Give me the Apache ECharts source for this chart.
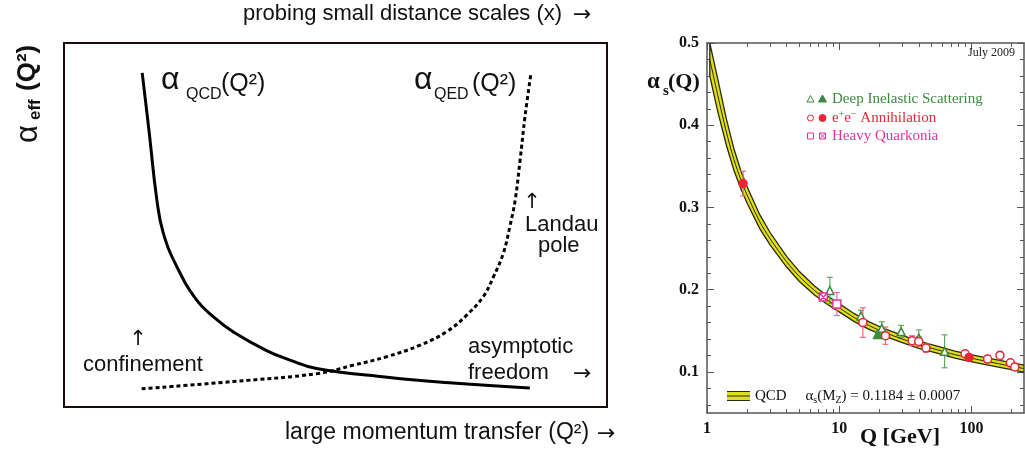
<!DOCTYPE html>
<html>
<head>
<meta charset="utf-8">
<script src="https://cdn.jsdelivr.net/npm/echarts@6/dist/echarts.min.js"></script>
<style>
  html, body { margin: 0; padding: 0; background: #fff; }
  #chart { width: 1025px; height: 452px; }
</style>
</head>
<body>
<div id="chart"></div>
<script>
// ---- Left panel: schematic effective couplings (arbitrary units, 0..100 on both axes)
const qcdSketchX = [14.4, 15.7, 17.1, 18.3, 20.8, 24.4, 27.5, 31.2, 37.3, 41.6, 46.5, 59.5, 71.6, 85.8];
const qcdSketchY = [91.8, 75.3, 56.9, 47.7, 38.5, 29.4, 24.8, 20.6, 15.5, 12.9, 10.6, 8.2, 6.6, 5.2];
const qedSketchX = [14.3, 31.2, 46.8, 53.3, 59.4, 65.6, 70.5, 74.2, 77.2, 79.1, 80.9, 82.1, 83.1, 84.0, 84.9, 86.0];
const qedSketchY = [5.0, 7.0, 9.2, 11.5, 13.8, 17.0, 20.7, 25.3, 30.3, 35.8, 42.2, 49.5, 56.9, 67.9, 79.8, 91.7];

// ---- Right panel: alpha_s(Q) world summary
const qcdQ      = [1.05, 1.2, 1.4, 1.6, 1.8, 2.0, 2.5, 3.0, 4.0, 5.0, 6.5, 8.0, 10, 13, 17, 22, 30, 40, 55, 75, 91.2, 120, 160, 200, 250];
const qcdAlpha  = [0.480, 0.438, 0.392, 0.358, 0.334, 0.316, 0.283, 0.262, 0.234, 0.216, 0.199, 0.188, 0.178, 0.166, 0.156, 0.148, 0.140, 0.133, 0.127, 0.121, 0.118, 0.114, 0.110, 0.107, 0.104];
const qcdSpread = [0.020, 0.020, 0.016, 0.013, 0.011, 0.010, 0.0085, 0.0075, 0.0065, 0.006, 0.0055, 0.0052, 0.005, 0.0048, 0.0046, 0.0045, 0.0044, 0.0043, 0.0043, 0.0042, 0.0042, 0.0042, 0.0042, 0.0042, 0.0042];

// [Q (GeV), alpha_s, error]
const disOpen      = [[8.5, 0.199, 0.016], [14.6, 0.168, 0.007], [21.0, 0.153, 0.008], [29.4, 0.149, 0.0075], [40.0, 0.141, 0.010], [62.7, 0.125, 0.020]];
const disFilled    = [[19.5, 0.1456, 0.004]];
const eeOpen       = [[15.1, 0.160, 0.018], [22.4, 0.144, 0.0105], [35.6, 0.138, 0.006], [40.0, 0.137, 0.006], [45.3, 0.129, 0.005], [89.7, 0.122, 0.003], [132.6, 0.1156, 0.0045], [164.4, 0.120, 0.005], [197.3, 0.111, 0.004], [213, 0.106, 0.003]];
const eeFilled     = [[1.875, 0.329, 0.015], [96.0, 0.1176, 0.002]];
const quarkOpen    = [[9.6, 0.1825, 0.014]];
const quarkCrossed = [[7.58, 0.191, 0.003]];

const xMajorTicks = [1, 10, 100];
const xMinorTicks = [2, 3, 4, 5, 6, 7, 8, 9, 20, 30, 40, 50, 60, 70, 80, 90, 200];
const yMajorTicks = [0.1, 0.2, 0.3, 0.4, 0.5];
const yMinorTicks = [0.06, 0.08, 0.12, 0.14, 0.16, 0.18, 0.22, 0.24, 0.26, 0.28, 0.32, 0.34, 0.36, 0.38, 0.42, 0.44, 0.46, 0.48];

const GREEN = '#3b8a3e', GREEN_BAR = '#5fa862';
const RED = '#ec2438', RED_BAR = '#f26a78';
const MAGENTA = '#e2359c', MAGENTA_BAR = '#ee6bb8';
const BAND = '#dede1c', BAND_EDGE = '#2a2a10';
const SANS = 'Liberation Sans', SERIF = 'Liberation Serif', SYM = 'DejaVu Sans';
const AXIS_GREY = '#555';

const zip = (a, b) => a.map((v, i) => [v, b[i]]);

function errorBarSeries(data, color) {
  return {
    type: 'custom', xAxisIndex: 1, yAxisIndex: 1, clip: true, z: 3,
    data: data,
    encode: { x: 0, y: 1 },
    renderItem: function (params, api) {
      const q = api.value(0), a = api.value(1), e = api.value(2);
      const top = api.coord([q, a + e]);
      const bot = api.coord([q, a - e]);
      const w = 3;
      return {
        type: 'group',
        children: [
          { type: 'line', shape: { x1: top[0], y1: top[1], x2: bot[0], y2: bot[1] }, style: { stroke: color, lineWidth: 1.2 } },
          { type: 'line', shape: { x1: top[0] - w, y1: top[1], x2: top[0] + w, y2: top[1] }, style: { stroke: color, lineWidth: 1.2 } },
          { type: 'line', shape: { x1: bot[0] - w, y1: bot[1], x2: bot[0] + w, y2: bot[1] }, style: { stroke: color, lineWidth: 1.2 } }
        ]
      };
    }
  };
}

function markerSeries(data, symbol, fill, stroke, size) {
  return {
    type: 'scatter', xAxisIndex: 1, yAxisIndex: 1, z: 4,
    data: data.map(d => [d[0], d[1]]),
    symbol: symbol, symbolSize: size || 7,
    itemStyle: { color: fill, borderColor: stroke, borderWidth: 1.5, opacity: 1 },
    emphasis: { disabled: true }
  };
}

const crossedSquare = 'path://M0,0H10V10H0Z M0,0L10,10 M10,0L0,10';

function txt(x, y, text, size, opts) {
  opts = opts || {};
  return {
    type: 'text', x: x, y: y, z: 10,
    style: Object.assign({
      text: text, fontSize: size, fontFamily: opts.family || SANS,
      fontWeight: opts.weight || 'normal', fill: opts.color || '#111',
      align: opts.align || 'left', verticalAlign: 'middle'
    }, opts.style || {})
  };
}

const chart = echarts.init(document.getElementById('chart'), null, { renderer: 'canvas' });

const option = {
  animation: false,
  backgroundColor: '#fff',
  grid: [
    { left: 64, top: 43, width: 543, height: 364, show: true, borderColor: '#1a0a0a', borderWidth: 2, backgroundColor: 'transparent' },
    { left: 707, top: 43, right: 1, bottom: 39 }
  ],
  xAxis: [
    { type: 'value', gridIndex: 0, min: 0, max: 100, show: false },
    { type: 'log', logBase: 10, gridIndex: 1, min: 1, max: 250, position: 'bottom',
      axisLine: { show: true, lineStyle: { color: AXIS_GREY, width: 1.5 } },
      axisTick: { show: true, inside: true, length: 7, customValues: xMajorTicks, lineStyle: { color: AXIS_GREY } },
      axisLabel: { show: true, customValues: xMajorTicks, formatter: v => String(Math.round(v)), fontFamily: SERIF, fontWeight: 'bold', fontSize: 16, color: '#111', margin: 8 },
      splitLine: { show: false }, minorTick: { show: false } },
    { type: 'log', logBase: 10, gridIndex: 1, min: 1, max: 250, position: 'bottom',
      axisLine: { show: false },
      axisTick: { show: true, inside: true, length: 4, customValues: xMinorTicks, lineStyle: { color: AXIS_GREY } },
      axisLabel: { show: false }, splitLine: { show: false } },
    { type: 'log', logBase: 10, gridIndex: 1, min: 1, max: 250, position: 'top',
      axisLine: { show: true, lineStyle: { color: AXIS_GREY, width: 1.5 } },
      axisTick: { show: true, inside: true, length: 7, customValues: xMajorTicks, lineStyle: { color: AXIS_GREY } },
      axisLabel: { show: false }, splitLine: { show: false } },
    { type: 'log', logBase: 10, gridIndex: 1, min: 1, max: 250, position: 'top',
      axisLine: { show: false },
      axisTick: { show: true, inside: true, length: 4, customValues: xMinorTicks, lineStyle: { color: AXIS_GREY } },
      axisLabel: { show: false }, splitLine: { show: false } }
  ],
  yAxis: [
    { type: 'value', gridIndex: 0, min: 0, max: 100, show: false },
    { type: 'value', gridIndex: 1, min: 0.05, max: 0.5, position: 'left',
      axisLine: { show: true, lineStyle: { color: AXIS_GREY, width: 1.5 } },
      axisTick: { show: true, inside: true, length: 7, customValues: yMajorTicks, lineStyle: { color: AXIS_GREY } },
      axisLabel: { show: true, customValues: yMajorTicks, formatter: v => v.toFixed(1), fontFamily: SERIF, fontWeight: 'bold', fontSize: 16, color: '#111', margin: 8 },
      splitLine: { show: false } },
    { type: 'value', gridIndex: 1, min: 0.05, max: 0.5, position: 'left',
      axisLine: { show: false },
      axisTick: { show: true, inside: true, length: 4, customValues: yMinorTicks, lineStyle: { color: AXIS_GREY } },
      axisLabel: { show: false }, splitLine: { show: false } },
    { type: 'value', gridIndex: 1, min: 0.05, max: 0.5, position: 'right',
      axisLine: { show: true, lineStyle: { color: AXIS_GREY, width: 1.5 } },
      axisTick: { show: true, inside: true, length: 7, customValues: yMajorTicks, lineStyle: { color: AXIS_GREY } },
      axisLabel: { show: false }, splitLine: { show: false } },
    { type: 'value', gridIndex: 1, min: 0.05, max: 0.5, position: 'right',
      axisLine: { show: false },
      axisTick: { show: true, inside: true, length: 4, customValues: yMinorTicks, lineStyle: { color: AXIS_GREY } },
      axisLabel: { show: false }, splitLine: { show: false } }
  ],
  series: [
    // schematic alpha_QCD: solid
    { type: 'line', xAxisIndex: 0, yAxisIndex: 0, data: zip(qcdSketchX, qcdSketchY), smooth: 0.45,
      showSymbol: false, symbol: 'none', lineStyle: { color: '#000', width: 3 }, emphasis: { disabled: true } },
    // schematic alpha_QED: dotted
    { type: 'line', xAxisIndex: 0, yAxisIndex: 0, data: zip(qedSketchX, qedSketchY), smooth: 0.4,
      showSymbol: false, symbol: 'none', lineStyle: { color: '#000', width: 3, type: [4, 3] }, emphasis: { disabled: true } },
    // QCD prediction band
    { type: 'custom', xAxisIndex: 1, yAxisIndex: 1, clip: true, z: 2,
      data: [[qcdQ[0], qcdAlpha[0]]],
      encode: { x: 0, y: 1 },
      renderItem: function (params, api) {
        const pts = [];
        for (let i = 0; i < qcdQ.length; i++) pts.push(api.coord([qcdQ[i], qcdAlpha[i] + qcdSpread[i]]));
        for (let i = qcdQ.length - 1; i >= 0; i--) pts.push(api.coord([qcdQ[i], qcdAlpha[i] - qcdSpread[i]]));
        return { type: 'polygon', shape: { points: pts, smooth: 0 }, style: { fill: BAND, stroke: BAND_EDGE, lineWidth: 1.3 } };
      } },
    { type: 'line', xAxisIndex: 1, yAxisIndex: 1, data: zip(qcdQ, qcdAlpha), smooth: 0.3, z: 3,
      showSymbol: false, symbol: 'none', lineStyle: { color: BAND_EDGE, width: 1 }, emphasis: { disabled: true } },
    errorBarSeries(disOpen, GREEN_BAR),
    errorBarSeries(disFilled, GREEN_BAR),
    errorBarSeries(eeOpen, RED_BAR),
    errorBarSeries(eeFilled, RED_BAR),
    errorBarSeries(quarkOpen, MAGENTA_BAR),
    errorBarSeries(quarkCrossed, MAGENTA_BAR),
    markerSeries(disOpen, 'triangle', '#fff', GREEN, 8),
    markerSeries(disFilled, 'triangle', GREEN, GREEN, 8),
    markerSeries(eeOpen, 'circle', '#fff', RED, 8),
    markerSeries(eeFilled, 'circle', RED, RED, 8),
    markerSeries(quarkOpen, 'rect', '#fff', MAGENTA, 8),
    markerSeries(quarkCrossed, crossedSquare, '#fff', MAGENTA, 8)
  ],
  graphic: [
    // left panel texts
    txt(243, 14, 'probing small distance scales (x)', 22),
    txt(573, 15, '\u2192', 22, { family: SYM }),
    txt(285, 433, 'large momentum transfer (Q\u00b2)', 23),
    txt(597, 434, '\u2192', 22, { family: SYM }),
    { type: 'group', x: 29, y: 143, rotation: Math.PI / 2, children: [
      txt(0, -1, '\u03b1', 31),
      txt(23, 6, 'eff', 17, { weight: 'bold' }),
      txt(52, -1, '(Q\u00b2)', 26, { weight: 'bold' })
    ] },
    txt(161, 80, '\u03b1', 32),
    txt(186, 95, 'QCD', 16),
    txt(221, 84, '(Q\u00b2)', 25),
    txt(414, 80, '\u03b1', 32),
    txt(434, 95, 'QED', 16),
    txt(472, 84, '(Q\u00b2)', 25),
    txt(532, 203, '\u2191', 21, { family: SYM, align: 'center' }),
    txt(525, 225, 'Landau', 22),
    txt(538, 246, 'pole', 22),
    txt(138, 340, '\u2191', 21, { family: SYM, align: 'center' }),
    txt(83, 365, 'confinement', 22),
    txt(468, 347, 'asymptotic', 22),
    txt(468, 373, 'freedom', 22),
    txt(573, 374, '\u2192', 22, { family: SYM }),
    // right panel texts
    txt(647, 82, '\u03b1', 23, { family: SERIF, weight: 'bold' }),
    txt(663, 91, 's', 15, { family: SERIF, weight: 'bold' }),
    txt(668, 82, '(Q)', 22, { family: SERIF, weight: 'bold' }),
    txt(900, 437, 'Q [GeV]', 22, { family: SERIF, weight: 'bold', align: 'center' }),
    txt(968, 53, 'July 2009', 12, { family: SERIF, color: '#222' }),
    // legend: data classes
    { type: 'polygon', shape: { points: [[810.5, 95.5], [807, 102], [814, 102]] }, style: { fill: '#fff', stroke: GREEN, lineWidth: 1 } },
    { type: 'polygon', shape: { points: [[822.5, 95], [818.5, 102], [826.5, 102]] }, style: { fill: GREEN, stroke: GREEN, lineWidth: 1 } },
    txt(832, 99, 'Deep Inelastic Scattering', 15, { family: SERIF, color: GREEN }),
    { type: 'circle', shape: { cx: 810.5, cy: 118, r: 3 }, style: { fill: '#fff', stroke: RED, lineWidth: 1 } },
    { type: 'circle', shape: { cx: 822.5, cy: 118, r: 3.5 }, style: { fill: RED, stroke: RED, lineWidth: 1 } },
    { type: 'text', x: 832, y: 118, style: {
      text: '{n|e}{s|+}{n|e}{s|\u2212}{n| Annihilation}', verticalAlign: 'middle', fill: RED,
      rich: { n: { fontFamily: SERIF, fontSize: 15, lineHeight: 18, fill: RED },
              s: { fontFamily: SERIF, fontSize: 10, lineHeight: 10, verticalAlign: 'top', fill: RED } } } },
    { type: 'rect', shape: { x: 807.5, y: 133, width: 6, height: 6 }, style: { fill: '#fff', stroke: MAGENTA, lineWidth: 1 } },
    { type: 'rect', shape: { x: 819.5, y: 133, width: 6, height: 6 }, style: { fill: '#fff', stroke: MAGENTA, lineWidth: 1 } },
    { type: 'line', shape: { x1: 819.5, y1: 133, x2: 825.5, y2: 139 }, style: { stroke: MAGENTA, lineWidth: 1 } },
    { type: 'line', shape: { x1: 825.5, y1: 133, x2: 819.5, y2: 139 }, style: { stroke: MAGENTA, lineWidth: 1 } },
    txt(832, 136, 'Heavy Quarkonia', 15, { family: SERIF, color: MAGENTA }),
    // legend: QCD band
    { type: 'rect', shape: { x: 727, y: 391, width: 23, height: 10 }, style: { fill: BAND } },
    { type: 'line', shape: { x1: 727, y1: 391.5, x2: 750, y2: 391.5 }, style: { stroke: BAND_EDGE, lineWidth: 1 } },
    { type: 'line', shape: { x1: 727, y1: 396, x2: 750, y2: 396 }, style: { stroke: BAND_EDGE, lineWidth: 1 } },
    { type: 'line', shape: { x1: 727, y1: 400.5, x2: 750, y2: 400.5 }, style: { stroke: BAND_EDGE, lineWidth: 1 } },
    { type: 'text', x: 755, y: 396, style: {
      text: '{n|QCD     \u03b1}{b|s}{n|(M}{b|Z}{n|) = 0.1184 \u00b1 0.0007}', verticalAlign: 'middle', fill: '#111',
      rich: { n: { fontFamily: SERIF, fontSize: 15, lineHeight: 18, fill: '#111' },
              b: { fontFamily: SERIF, fontSize: 10, lineHeight: 10, verticalAlign: 'bottom', fill: '#111' } } } }
  ]
};

chart.setOption(option);
</script>
</body>
</html>
